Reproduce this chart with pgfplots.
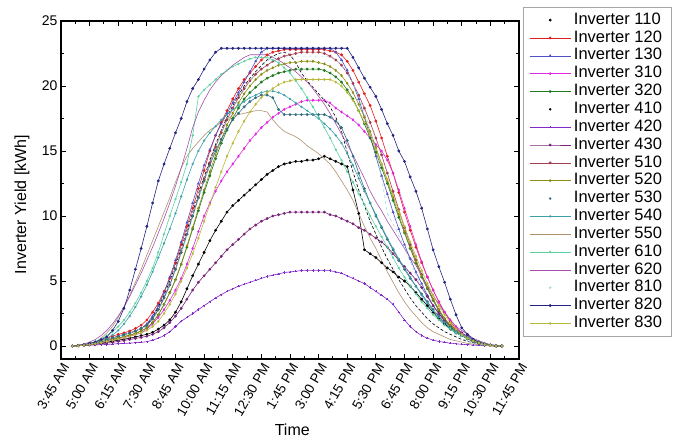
\documentclass[border=0pt]{standalone}
\usepackage{fontspec}
\setmainfont{Liberation Sans}
\usepackage{pgfplots}
\pgfplotsset{compat=1.18}

\definecolor{c120}{RGB}{225,30,30}
\definecolor{c130}{RGB}{80,80,200}
\definecolor{c310}{RGB}{225,40,225}
\definecolor{c320}{RGB}{30,120,30}
\definecolor{c420}{RGB}{130,40,200}
\definecolor{c430}{RGB}{120,35,120}
\definecolor{c510}{RGB}{165,60,80}
\definecolor{c520}{RGB}{140,140,20}
\definecolor{c530}{RGB}{50,110,130}
\definecolor{c540}{RGB}{60,160,170}
\definecolor{c550}{RGB}{175,145,110}
\definecolor{c610}{RGB}{90,210,160}
\definecolor{c620}{RGB}{165,80,170}
\definecolor{c810}{RGB}{160,215,225}
\definecolor{c820}{RGB}{35,35,130}
\definecolor{c830}{RGB}{185,185,60}

\begin{document}
\begin{tikzpicture}
\useasboundingbox (-61pt,-84pt) rectangle (619pt,359pt);
\begin{axis}[
    scale only axis,
    width=458pt, height=338pt,
    xmin=0, xmax=80, ymin=-1, ymax=25,
    xtick={0,5,...,80},
    xticklabels={3:45 AM,5:00 AM,6:15 AM,7:30 AM,8:45 AM,10:00 AM,11:15 AM,12:30 PM,1:45 PM,3:00 PM,4:15 PM,5:30 PM,6:45 PM,8:00 PM,9:15 PM,10:30 PM,11:45 PM},
    ytick={0,5,...,25},
    minor x tick num=1, minor y tick num=1,
    major tick length=5pt, minor tick length=3pt,
    every tick/.style={black, line width=0.9pt},
    axis line style={line width=1.2pt},
    /pgf/number format/assume math mode=true,
    yticklabel style={font=\fontsize{14}{14}\selectfont},
    xticklabel style={font=\fontsize{13.5}{13.5}\selectfont, rotate=60, anchor=east, xshift=1pt, yshift=-7pt},
    xlabel={Time},
    ylabel={Inverter Yield [kWh]},
    label style={font=\fontsize{16}{16}\selectfont},
    xlabel style={at={(axis description cs:0.505,-0.21)}, anchor=center},
    ylabel style={at={(axis description cs:-0.085,0.457)}, anchor=center},
    every axis plot/.append style={line width=0.6pt, mark size=1.1pt},
    legend image code/.code={\draw[mark repeat=2,mark phase=2] plot coordinates {(0pt,0pt) (20.5pt,0pt) (41pt,0pt)};},
    legend style={at={(axis description cs:1.0087,1.042)}, anchor=north west,
      font=\fontsize{16.5}{16.5}\selectfont, draw=gray!70, line width=0.8pt,
      inner xsep=6pt, inner ysep=4pt, row sep=0pt,
      nodes={inner xsep=3pt, inner ysep=0.9pt, text height=12.2pt, text depth=3.84pt}},
    legend cell align=left,
]

% Inverter 110
\addplot[black, mark=*, forget plot] coordinates {
(2,0) (3,0.02) (4,0.05) (5,0.1) (6,0.15) (7,0.22) (8,0.3) (9,0.37) (10,0.45) (11,0.52)
(12,0.6) (13,0.7) (14,0.8) (15,0.9) (16,1.05) (17,1.3) (18,1.6) (19,2.0) (20,2.6) (21,3.4)
(22,4.4) (23,5.4) (24,6.3) (25,7.2) (26,8.1) (27,8.9) (28,9.6) (29,10.3) (30,10.8) (31,11.2)
(32,11.6) (33,12.0) (34,12.4) (35,12.8) (36,13.2) (37,13.5) (38,13.8) (39,14.0) (40,14.1) (41,14.2)
(42,14.2) (43,14.3) (44,14.3) (45,14.4) (46,14.6) (47,14.4) (48,14.2) (49,14.0) (50,13.8) (51,12.0)
(52,10.2) (53,7.4) (54,7.1) (55,6.8) (56,6.4) (57,6.0) (58,5.7) (59,5.3) (60,5.0) (61,4.6)
(62,4.1) (63,3.6) (64,3.1) (65,2.6) (66,2.1) (67,1.7) (68,1.3) (69,1.0) (70,0.8) (71,0.6)
(72,0.4) (73,0.25) (74,0.12) (75,0.05) (76,0) (77,0)};
\addlegendimage{black, only marks, mark=*}
\addlegendentry{Inverter 110}

% Inverter 120
\addplot[c120, mark=*] coordinates {
(2,0) (3,0.05) (4,0.1) (5,0.2) (6,0.3) (7,0.45) (8,0.6) (9,0.75) (10,0.9) (11,1.0)
(12,1.15) (13,1.35) (14,1.6) (15,2.0) (16,2.6) (17,3.3) (18,4.2) (19,5.2) (20,6.4) (21,7.8)
(22,9.2) (23,10.6) (24,12.1) (25,13.5) (26,15.0) (27,16.2) (28,17.2) (29,18.1) (30,19.0) (31,19.8)
(32,20.5) (33,21.0) (34,21.5) (35,22.0) (36,22.4) (37,22.6) (38,22.7) (39,22.8) (40,22.8) (41,22.8)
(42,22.8) (43,22.8) (44,22.8) (45,22.8) (46,22.8) (47,22.7) (48,22.6) (49,22.4) (50,21.9) (51,21.2)
(52,20.3) (53,19.4) (54,18.5) (55,17.3) (56,16.0) (57,14.6) (58,13.3) (59,11.8) (60,10.3) (61,8.9)
(62,7.6) (63,6.4) (64,5.3) (65,4.3) (66,3.4) (67,2.6) (68,1.9) (69,1.3) (70,0.9) (71,0.6)
(72,0.35) (73,0.2) (74,0.1) (75,0.05) (76,0) (77,0)};
\addlegendentry{Inverter 120}

% Inverter 130
\addplot[c130, mark=triangle*] coordinates {
(2,0) (3,0.03) (4,0.08) (5,0.15) (6,0.25) (7,0.38) (8,0.5) (9,0.62) (10,0.75) (11,0.88)
(12,1.0) (13,1.15) (14,1.35) (15,1.7) (16,2.3) (17,3.1) (18,4.1) (19,5.3) (20,6.6) (21,8.0)
(22,9.5) (23,11.0) (24,12.5) (25,13.9) (26,15.1) (27,16.2) (28,17.1) (29,17.9) (30,18.7) (31,19.5)
(32,20.3) (33,21.1) (34,21.9) (35,22.6) (36,22.9) (37,22.9) (38,22.9) (39,22.9) (40,22.9) (41,22.9)
(42,22.9) (43,22.9) (44,22.9) (45,22.9) (46,22.9) (47,22.9) (48,22.6) (49,22.0) (50,21.2) (51,20.2)
(52,19.0) (53,17.6) (54,16.1) (55,14.6) (56,13.1) (57,11.7) (58,10.3) (59,9.0) (60,7.8) (61,6.7)
(62,5.7) (63,4.8) (64,3.9) (65,3.1) (66,2.5) (67,1.9) (68,1.5) (69,1.1) (70,0.8) (71,0.6)
(72,0.4) (73,0.25) (74,0.15) (75,0.08) (76,0.03) (77,0)};
\addlegendentry{Inverter 130}

% Inverter 310
\addplot[c310, mark=diamond*] coordinates {
(2,0) (3,0.02) (4,0.05) (5,0.1) (6,0.17) (7,0.25) (8,0.35) (9,0.45) (10,0.55) (11,0.65)
(12,0.75) (13,0.88) (14,1.0) (15,1.3) (16,1.7) (17,2.2) (18,2.8) (19,3.5) (20,4.3) (21,5.2)
(22,6.3) (23,7.5) (24,8.8) (25,10.0) (26,11.0) (27,11.9) (28,12.7) (29,13.4) (30,14.0) (31,14.6)
(32,15.2) (33,15.8) (34,16.3) (35,16.8) (36,17.2) (37,17.6) (38,17.9) (39,18.2) (40,18.4) (41,18.6)
(42,18.8) (43,18.9) (44,18.9) (45,18.9) (46,18.9) (47,18.7) (48,18.3) (49,18.0) (50,17.7) (51,17.4)
(52,17.0) (53,16.5) (54,16.0) (55,15.5) (56,15.0) (57,14.3) (58,13.3) (59,12.0) (60,10.6) (61,9.2)
(62,7.8) (63,6.5) (64,5.3) (65,4.3) (66,3.4) (67,2.6) (68,2.0) (69,1.5) (70,1.0) (71,0.7)
(72,0.4) (73,0.25) (74,0.1) (75,0.05) (76,0) (77,0)};
\addlegendentry{Inverter 310}

% Inverter 320
\addplot[c320, mark=*] coordinates {
(2,0) (3,0.03) (4,0.07) (5,0.13) (6,0.22) (7,0.32) (8,0.42) (9,0.52) (10,0.62) (11,0.72)
(12,0.84) (13,0.97) (14,1.15) (15,1.4) (16,1.8) (17,2.4) (18,3.2) (19,4.1) (20,5.1) (21,6.3)
(22,7.6) (23,9.0) (24,10.4) (25,11.8) (26,13.1) (27,14.4) (28,15.6) (29,16.6) (30,17.5) (31,18.3)
(32,19.0) (33,19.5) (34,19.9) (35,20.3) (36,20.6) (37,20.8) (38,21.0) (39,21.1) (40,21.2) (41,21.3)
(42,21.3) (43,21.3) (44,21.3) (45,21.3) (46,21.2) (47,21.0) (48,20.7) (49,20.3) (50,19.7) (51,19.0)
(52,18.1) (53,17.1) (54,16.0) (55,14.9) (56,13.7) (57,12.5) (58,11.2) (59,9.9) (60,8.7) (61,7.5)
(62,6.4) (63,5.3) (64,4.4) (65,3.5) (66,2.7) (67,2.0) (68,1.5) (69,1.1) (70,0.8) (71,0.55)
(72,0.35) (73,0.2) (74,0.1) (75,0.05) (76,0) (77,0)};
\addlegendentry{Inverter 320}

% Inverter 410
\addplot[black, densely dashed, forget plot] coordinates {
(2,0) (3,0.03) (4,0.08) (5,0.15) (6,0.25) (7,0.38) (8,0.5) (9,0.62) (10,0.75) (11,0.88)
(12,1.0) (13,1.15) (14,1.35) (15,1.6) (16,2.2) (17,3.0) (18,3.9) (19,5.0) (20,6.2) (21,7.5)
(22,8.9) (23,10.3) (24,11.7) (25,13.0) (26,14.3) (27,15.5) (28,16.6) (29,17.6) (30,18.5) (31,19.3)
(32,20.0) (33,20.6) (34,21.1) (35,21.6) (36,22.0) (37,22.3) (38,22.5) (39,22.6) (40,22.4) (41,21.8)
(42,21.0) (43,20.4) (44,19.9) (45,19.4) (46,18.9) (47,18.4) (48,17.6) (49,16.5) (50,14.9) (51,13.4)
(52,12.0) (53,10.8) (54,9.6) (55,8.6) (56,7.6) (57,6.7) (58,5.9) (59,5.1) (60,4.4) (61,3.7)
(62,3.1) (63,2.6) (64,2.1) (65,1.7) (66,1.4) (67,1.1) (68,0.9) (69,0.7) (70,0.5) (71,0.35)
(72,0.25) (73,0.15) (74,0.08) (75,0.03) (76,0) (77,0)};
\addlegendimage{black, only marks, mark=*, mark size=0.9pt}
\addlegendentry{Inverter 410}

% Inverter 420
\addplot[c420, mark=+] coordinates {
(2,0) (3,0.02) (4,0.04) (5,0.06) (6,0.08) (7,0.1) (8,0.12) (9,0.15) (10,0.18) (11,0.2)
(12,0.22) (13,0.25) (14,0.28) (15,0.33) (16,0.45) (17,0.6) (18,0.8) (19,1.1) (20,1.5) (21,1.9)
(22,2.2) (23,2.5) (24,2.8) (25,3.1) (26,3.4) (27,3.7) (28,3.95) (29,4.2) (30,4.4) (31,4.6)
(32,4.75) (33,4.9) (34,5.05) (35,5.2) (36,5.35) (37,5.45) (38,5.55) (39,5.65) (40,5.7) (41,5.75)
(42,5.8) (43,5.8) (44,5.8) (45,5.8) (46,5.8) (47,5.8) (48,5.7) (49,5.6) (50,5.4) (51,5.2)
(52,5.0) (53,4.8) (54,4.5) (55,4.2) (56,3.9) (57,3.6) (58,3.2) (59,2.6) (60,2.0) (61,1.5)
(62,1.1) (63,0.8) (64,0.6) (65,0.45) (66,0.35) (67,0.28) (68,0.22) (69,0.17) (70,0.13) (71,0.1)
(72,0.07) (73,0.05) (74,0.03) (75,0.02) (76,0) (77,0)};
\addlegendentry{Inverter 420}

% Inverter 430
\addplot[c430, mark=*] coordinates {
(2,0) (3,0.02) (4,0.05) (5,0.08) (6,0.12) (7,0.17) (8,0.22) (9,0.28) (10,0.35) (11,0.42)
(12,0.5) (13,0.58) (14,0.66) (15,0.75) (16,0.9) (17,1.1) (18,1.4) (19,1.8) (20,2.3) (21,2.9)
(22,3.6) (23,4.3) (24,4.9) (25,5.4) (26,5.9) (27,6.4) (28,6.9) (29,7.4) (30,7.8) (31,8.2)
(32,8.6) (33,9.0) (34,9.3) (35,9.6) (36,9.8) (37,10.0) (38,10.1) (39,10.2) (40,10.3) (41,10.3)
(42,10.3) (43,10.3) (44,10.3) (45,10.3) (46,10.3) (47,10.1) (48,10.0) (49,9.8) (50,9.6) (51,9.4)
(52,9.1) (53,8.9) (54,8.6) (55,8.3) (56,8.0) (57,7.6) (58,7.1) (59,6.6) (60,6.1) (61,5.6)
(62,5.1) (63,4.5) (64,3.8) (65,3.1) (66,2.5) (67,2.0) (68,1.6) (69,1.3) (70,1.0) (71,0.75)
(72,0.5) (73,0.3) (74,0.15) (75,0.08) (76,0.03) (77,0)};
\addlegendentry{Inverter 430}

% Inverter 510
\addplot[c510, mark=*] coordinates {
(2,0) (3,0.03) (4,0.08) (5,0.15) (6,0.25) (7,0.38) (8,0.5) (9,0.62) (10,0.75) (11,0.88)
(12,1.0) (13,1.15) (14,1.35) (15,1.6) (16,2.1) (17,2.8) (18,3.7) (19,4.7) (20,5.9) (21,7.2)
(22,8.6) (23,10.0) (24,11.4) (25,12.8) (26,14.1) (27,15.3) (28,16.4) (29,17.4) (30,18.3) (31,19.1)
(32,19.8) (33,20.4) (34,20.9) (35,21.3) (36,21.6) (37,21.9) (38,22.1) (39,22.3) (40,22.4) (41,22.5)
(42,22.6) (43,22.6) (44,22.6) (45,22.6) (46,22.5) (47,22.3) (48,22.0) (49,21.6) (50,21.0) (51,20.2)
(52,19.3) (53,18.3) (54,17.2) (55,16.0) (56,14.7) (57,13.3) (58,11.9) (59,10.5) (60,9.1) (61,7.8)
(62,6.6) (63,5.5) (64,4.5) (65,3.6) (66,2.8) (67,2.1) (68,1.6) (69,1.2) (70,0.9) (71,0.6)
(72,0.4) (73,0.25) (74,0.15) (75,0.08) (76,0.03) (77,0)};
\addlegendentry{Inverter 510}

% Inverter 520
\addplot[c520, mark=diamond*] coordinates {
(2,0) (3,0.03) (4,0.07) (5,0.13) (6,0.22) (7,0.32) (8,0.42) (9,0.52) (10,0.62) (11,0.72)
(12,0.84) (13,0.97) (14,1.15) (15,1.4) (16,1.8) (17,2.4) (18,3.2) (19,4.1) (20,5.1) (21,6.3)
(22,7.7) (23,9.1) (24,10.6) (25,12.0) (26,13.4) (27,14.7) (28,15.9) (29,17.0) (30,17.9) (31,18.7)
(32,19.4) (33,20.0) (34,20.5) (35,20.9) (36,21.2) (37,21.4) (38,21.6) (39,21.7) (40,21.8) (41,21.8)
(42,21.9) (43,21.9) (44,21.9) (45,21.8) (46,21.7) (47,21.5) (48,21.2) (49,20.8) (50,20.2) (51,19.5)
(52,18.6) (53,17.6) (54,16.5) (55,15.3) (56,14.0) (57,12.7) (58,11.4) (59,10.1) (60,8.8) (61,7.6)
(62,6.5) (63,5.4) (64,4.5) (65,3.6) (66,2.8) (67,2.1) (68,1.6) (69,1.2) (70,0.85) (71,0.6)
(72,0.4) (73,0.25) (74,0.12) (75,0.05) (76,0) (77,0)};
\addlegendentry{Inverter 520}

% Inverter 530
\addplot[c530, mark=*, forget plot] coordinates {
(2,0) (3,0.03) (4,0.08) (5,0.15) (6,0.25) (7,0.38) (8,0.5) (9,0.62) (10,0.75) (11,0.88)
(12,1.0) (13,1.15) (14,1.35) (15,1.6) (16,2.1) (17,2.8) (18,3.7) (19,4.7) (20,5.9) (21,7.2)
(22,8.6) (23,10.0) (24,11.4) (25,12.7) (26,13.9) (27,15.0) (28,15.9) (29,16.7) (30,17.4) (31,17.9)
(32,18.4) (33,18.8) (34,19.1) (35,19.3) (36,19.3) (37,19.1) (38,18.2) (39,17.8) (40,17.8) (41,17.8)
(42,17.8) (43,17.8) (44,17.8) (45,17.8) (46,17.8) (47,17.6) (48,17.3) (49,16.8) (50,15.8) (51,14.6)
(52,13.3) (53,12.1) (54,11.0) (55,10.0) (56,9.1) (57,8.2) (58,7.4) (59,6.6) (60,5.9) (61,5.2)
(62,4.6) (63,4.0) (64,3.4) (65,2.8) (66,2.3) (67,1.8) (68,1.4) (69,1.1) (70,0.8) (71,0.55)
(72,0.35) (73,0.2) (74,0.1) (75,0.05) (76,0) (77,0)};
\addlegendimage{c530, only marks, mark=*, mark size=0.9pt}
\addlegendentry{Inverter 530}

% Inverter 540
\addplot[c540, mark=*, mark size=0.8pt] coordinates {
(2,0) (3,0.03) (4,0.08) (5,0.15) (6,0.25) (7,0.4) (8,0.6) (9,0.85) (10,1.2) (11,1.7)
(12,2.3) (13,3.0) (14,3.8) (15,4.7) (16,5.7) (17,6.8) (18,7.9) (19,9.0) (20,10.2) (21,11.5)
(22,12.8) (23,14.0) (24,15.0) (25,15.8) (26,16.4) (27,16.9) (28,17.4) (29,17.8) (30,18.2) (31,18.5)
(32,18.8) (33,19.1) (34,19.3) (35,19.5) (36,19.6) (37,19.6) (38,19.5) (39,19.3) (40,19.0) (41,18.7)
(42,18.4) (43,18.1) (44,17.8) (45,17.5) (46,17.1) (47,16.7) (48,16.2) (49,15.6) (50,14.8) (51,13.9)
(52,12.9) (53,11.9) (54,11.0) (55,10.1) (56,9.2) (57,8.3) (58,7.5) (59,6.7) (60,6.0) (61,5.3)
(62,4.6) (63,3.9) (64,3.3) (65,2.7) (66,2.2) (67,1.8) (68,1.4) (69,1.1) (70,0.9) (71,0.7)
(72,0.5) (73,0.35) (74,0.2) (75,0.1) (76,0.05) (77,0)};
\addlegendentry{Inverter 540}

% Inverter 550
\addplot[c550] coordinates {
(2,0) (3,0.05) (4,0.12) (5,0.2) (6,0.3) (7,0.6) (8,1.0) (9,1.5) (10,2.2) (11,3.0)
(12,3.9) (13,4.9) (14,5.9) (15,7.0) (16,8.1) (17,9.2) (18,10.3) (19,11.4) (20,12.6) (21,13.7)
(22,14.6) (23,15.2) (24,15.7) (25,16.2) (26,16.6) (27,16.9) (28,17.2) (29,17.5) (30,17.7) (31,17.8)
(32,17.9) (33,18.0) (34,18.1) (35,18.1) (36,18.0) (37,17.4) (38,16.9) (39,16.5) (40,16.3) (41,16.1)
(42,15.8) (43,15.4) (44,15.1) (45,14.8) (46,14.4) (47,14.0) (48,13.4) (49,12.7) (50,12.0) (51,11.2)
(52,10.2) (53,9.2) (54,8.3) (55,7.5) (56,6.6) (57,5.7) (58,4.9) (59,4.1) (60,3.4) (61,2.8)
(62,2.3) (63,1.8) (64,1.4) (65,1.1) (66,0.9) (67,0.7) (68,0.5) (69,0.4) (70,0.3) (71,0.2)
(72,0.15) (73,0.1) (74,0.05) (75,0) (76,0) (77,0)};
\addlegendentry{Inverter 550}

% Inverter 610
\addplot[c610, mark=*, mark size=0.8pt] coordinates {
(2,0) (3,0.05) (4,0.1) (5,0.2) (6,0.35) (7,0.55) (8,0.8) (9,1.1) (10,1.5) (11,2.0)
(12,2.6) (13,3.3) (14,4.1) (15,5.0) (16,6.0) (17,7.2) (18,8.6) (19,10.0) (20,11.3) (21,12.6)
(22,14.0) (23,16.2) (24,19.2) (25,19.7) (26,20.1) (27,20.5) (28,20.9) (29,21.2) (30,21.5) (31,21.7)
(32,21.9) (33,22.1) (34,22.2) (35,22.2) (36,22.2) (37,22.0) (38,21.8) (39,21.4) (40,21.0) (41,20.4)
(42,19.8) (43,19.1) (44,18.4) (45,17.6) (46,16.8) (47,16.0) (48,15.1) (49,14.3) (50,13.4) (51,12.6)
(52,11.7) (53,10.9) (54,10.0) (55,9.2) (56,8.4) (57,7.6) (58,6.8) (59,6.0) (60,5.3) (61,4.6)
(62,4.0) (63,3.4) (64,2.9) (65,2.4) (66,2.0) (67,1.6) (68,1.3) (69,1.0) (70,0.8) (71,0.6)
(72,0.4) (73,0.25) (74,0.15) (75,0.05) (76,0) (77,0)};
\addlegendentry{Inverter 610}

% Inverter 620
\addplot[c620] coordinates {
(2,0) (3,0.05) (4,0.15) (5,0.3) (6,0.5) (7,0.8) (8,1.2) (9,1.7) (10,2.3) (11,3.0)
(12,3.8) (13,4.7) (14,5.6) (15,6.6) (16,7.6) (17,8.7) (18,9.8) (19,11.0) (20,12.3) (21,13.7)
(22,15.2) (23,16.8) (24,18.0) (25,18.9) (26,19.7) (27,20.3) (28,20.8) (29,21.2) (30,21.6) (31,21.9)
(32,22.2) (33,22.4) (34,22.4) (35,22.4) (36,22.4) (37,22.2) (38,22.0) (39,21.7) (40,21.4) (41,21.1)
(42,20.7) (43,20.3) (44,19.8) (45,19.2) (46,18.6) (47,17.9) (48,17.1) (49,16.3) (50,15.5) (51,14.7)
(52,13.8) (53,12.9) (54,11.9) (55,11.1) (56,10.4) (57,9.6) (58,8.9) (59,8.2) (60,7.5) (61,6.8)
(62,6.2) (63,5.4) (64,4.6) (65,3.9) (66,3.2) (67,2.6) (68,2.0) (69,1.5) (70,1.2) (71,0.9)
(72,0.6) (73,0.4) (74,0.25) (75,0.1) (76,0.05) (77,0)};
\addlegendentry{Inverter 620}

% Inverter 810
\addplot[c810, dashed, forget plot] coordinates {
(2,0) (3,0.03) (4,0.08) (5,0.15) (6,0.25) (7,0.38) (8,0.5) (9,0.62) (10,0.75) (11,0.88)
(12,1.0) (13,1.15) (14,1.35) (15,1.5) (16,2.0) (17,2.7) (18,3.6) (19,4.6) (20,5.8) (21,7.1)
(22,8.5) (23,9.9) (24,11.3) (25,12.7) (26,14.0) (27,15.2) (28,16.3) (29,17.3) (30,18.2) (31,19.0)
(32,19.7) (33,20.4) (34,21.0) (35,21.5) (36,21.9) (37,22.2) (38,22.3) (39,22.3) (40,22.3) (41,22.3)
(42,22.3) (43,22.3) (44,22.3) (45,22.3) (46,22.3) (47,22.2) (48,22.0) (49,21.6) (50,21.0) (51,20.2)
(52,19.2) (53,18.0) (54,16.6) (55,15.0) (56,13.0) (57,10.2) (58,9.4) (59,8.5) (60,7.5) (61,6.5)
(62,5.5) (63,4.5) (64,3.6) (65,2.8) (66,2.1) (67,1.6) (68,1.2) (69,0.9) (70,0.6) (71,0.4)
(72,0.25) (73,0.15) (74,0.08) (75,0.03) (76,0) (77,0)};
\addlegendimage{c810, only marks, mark=*, mark size=0.9pt}
\addlegendentry{Inverter 810}

% Inverter 820
\addplot[c820, mark=*] coordinates {
(2,0) (3,0.05) (4,0.1) (5,0.2) (6,0.3) (7,0.5) (8,0.7) (9,1.2) (10,1.9) (11,2.9)
(12,4.3) (13,5.9) (14,7.5) (15,9.2) (16,11.0) (17,12.7) (18,14.0) (19,15.2) (20,16.4) (21,17.5)
(22,18.8) (23,19.8) (24,20.5) (25,21.3) (26,22.0) (27,22.6) (28,22.9) (29,22.9) (30,22.9) (31,22.9)
(32,22.9) (33,22.9) (34,22.9) (35,22.9) (36,22.9) (37,22.9) (38,22.9) (39,22.9) (40,22.9) (41,22.9)
(42,22.9) (43,22.9) (44,22.9) (45,22.9) (46,22.9) (47,22.9) (48,22.9) (49,22.9) (50,22.9) (51,22.2)
(52,21.4) (53,20.6) (54,19.9) (55,19.2) (56,18.2) (57,17.1) (58,16.2) (59,15.0) (60,14.2) (61,13.0)
(62,11.9) (63,10.6) (64,9.0) (65,7.4) (66,6.1) (67,4.9) (68,3.6) (69,2.4) (70,1.4) (71,0.9)
(72,0.5) (73,0.3) (74,0.15) (75,0.05) (76,0) (77,0)};
\addlegendentry{Inverter 820}

% Inverter 830
\addplot[c830, mark=diamond*] coordinates {
(2,0) (3,0.02) (4,0.05) (5,0.1) (6,0.17) (7,0.25) (8,0.35) (9,0.45) (10,0.55) (11,0.65)
(12,0.75) (13,0.88) (14,1.0) (15,1.2) (16,1.5) (17,1.9) (18,2.5) (19,3.2) (20,4.0) (21,5.0)
(22,6.0) (23,7.1) (24,8.3) (25,9.6) (26,10.9) (27,12.2) (28,13.4) (29,14.6) (30,15.6) (31,16.5)
(32,17.3) (33,18.0) (34,18.6) (35,19.1) (36,19.5) (37,19.8) (38,20.1) (39,20.3) (40,20.4) (41,20.5)
(42,20.5) (43,20.5) (44,20.5) (45,20.5) (46,20.5) (47,20.5) (48,20.3) (49,20.0) (50,19.5) (51,18.9)
(52,18.1) (53,17.2) (54,16.2) (55,15.1) (56,14.0) (57,12.8) (58,11.6) (59,10.4) (60,9.2) (61,8.0)
(62,6.9) (63,5.8) (64,4.8) (65,3.9) (66,3.1) (67,2.4) (68,1.8) (69,1.3) (70,0.9) (71,0.6)
(72,0.4) (73,0.25) (74,0.12) (75,0.05) (76,0) (77,0)};
\addlegendentry{Inverter 830}

\end{axis}
\end{tikzpicture}
\end{document}
